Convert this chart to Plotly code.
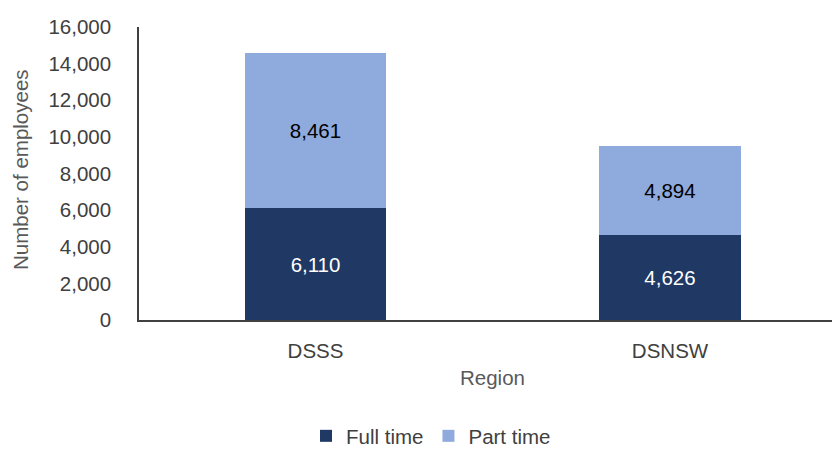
import plotly.graph_objects as go

regions = ["DSSS", "DSNSW"]
full_time = [6110, 4626]
part_time = [8461, 4894]
y_ticks = [0, 2000, 4000, 6000, 8000, 10000, 12000, 14000, 16000]

FONT = "Liberation Sans, Arial, sans-serif"
W, H = 832, 449
ML, MR, MT, MB = 139, 0, 27, 129
pw = W - ML - MR
ph = H - MT - MB

fig = go.Figure()
fig.add_trace(go.Bar(
    name="Full time", x=regions, y=full_time, width=0.4,
    marker=dict(color="#203864", line=dict(width=0)),
    text=[f"{v:,}" for v in full_time], textposition="inside",
    insidetextanchor="middle", textangle=0,
    textfont=dict(family=FONT, size=20.5, color="white"),
))
fig.add_trace(go.Bar(
    name="Part time", x=regions, y=part_time, width=0.4,
    marker=dict(color="#8faadc", line=dict(width=0)),
    text=[f"{v:,}" for v in part_time], textposition="inside",
    insidetextanchor="middle", textangle=0,
    textfont=dict(family=FONT, size=20.5, color="black"),
))

fig.update_layout(
    barmode="stack",
    width=W, height=H,
    margin=dict(l=ML, r=MR, t=MT, b=MB, pad=0, autoexpand=False),
    paper_bgcolor="white", plot_bgcolor="white",
    font=dict(family=FONT, size=20.5, color="#404040"),
    showlegend=True,
    legend=dict(orientation="h", x=(306 - ML) / pw, xanchor="left",
                y=-(436 - 320) / ph, yanchor="middle",
                font=dict(family=FONT, size=20.5, color="#404040"),
                itemsizing="constant", traceorder="normal",
                itemwidth=30, tracegroupgap=0),
)
fig.update_xaxes(
    type="category", range=[-0.498, 1.457],
    showline=True, linecolor="#404040", linewidth=1.5,
    showgrid=False, ticks="", ticklabelstandoff=12,
    tickfont=dict(family=FONT, size=20.5, color="#404040"),
    zeroline=False,
)
fig.update_yaxes(
    range=[0, 16000], tickvals=y_ticks,
    ticktext=[f"{v:,}" for v in y_ticks],
    showline=True, linecolor="#404040", linewidth=1.5,
    showgrid=False, zeroline=False, ticks="",
    ticklabelstandoff=22,
    tickfont=dict(family=FONT, size=20.5, color="#404040"),
)
fig.add_annotation(
    text="Number of employees", textangle=-90,
    xref="paper", yref="paper",
    x=(20 - ML) / pw, y=(320 - 170) / ph,
    xanchor="center", yanchor="middle", showarrow=False,
    font=dict(family=FONT, size=20.5, color="#595959"),
)
fig.add_annotation(
    text="Region",
    xref="paper", yref="paper",
    x=(492 - ML) / pw, y=-(377 - 320) / ph,
    xanchor="center", yanchor="middle", showarrow=False,
    font=dict(family=FONT, size=20.5, color="#595959"),
)

fig.write_html("out.html")
